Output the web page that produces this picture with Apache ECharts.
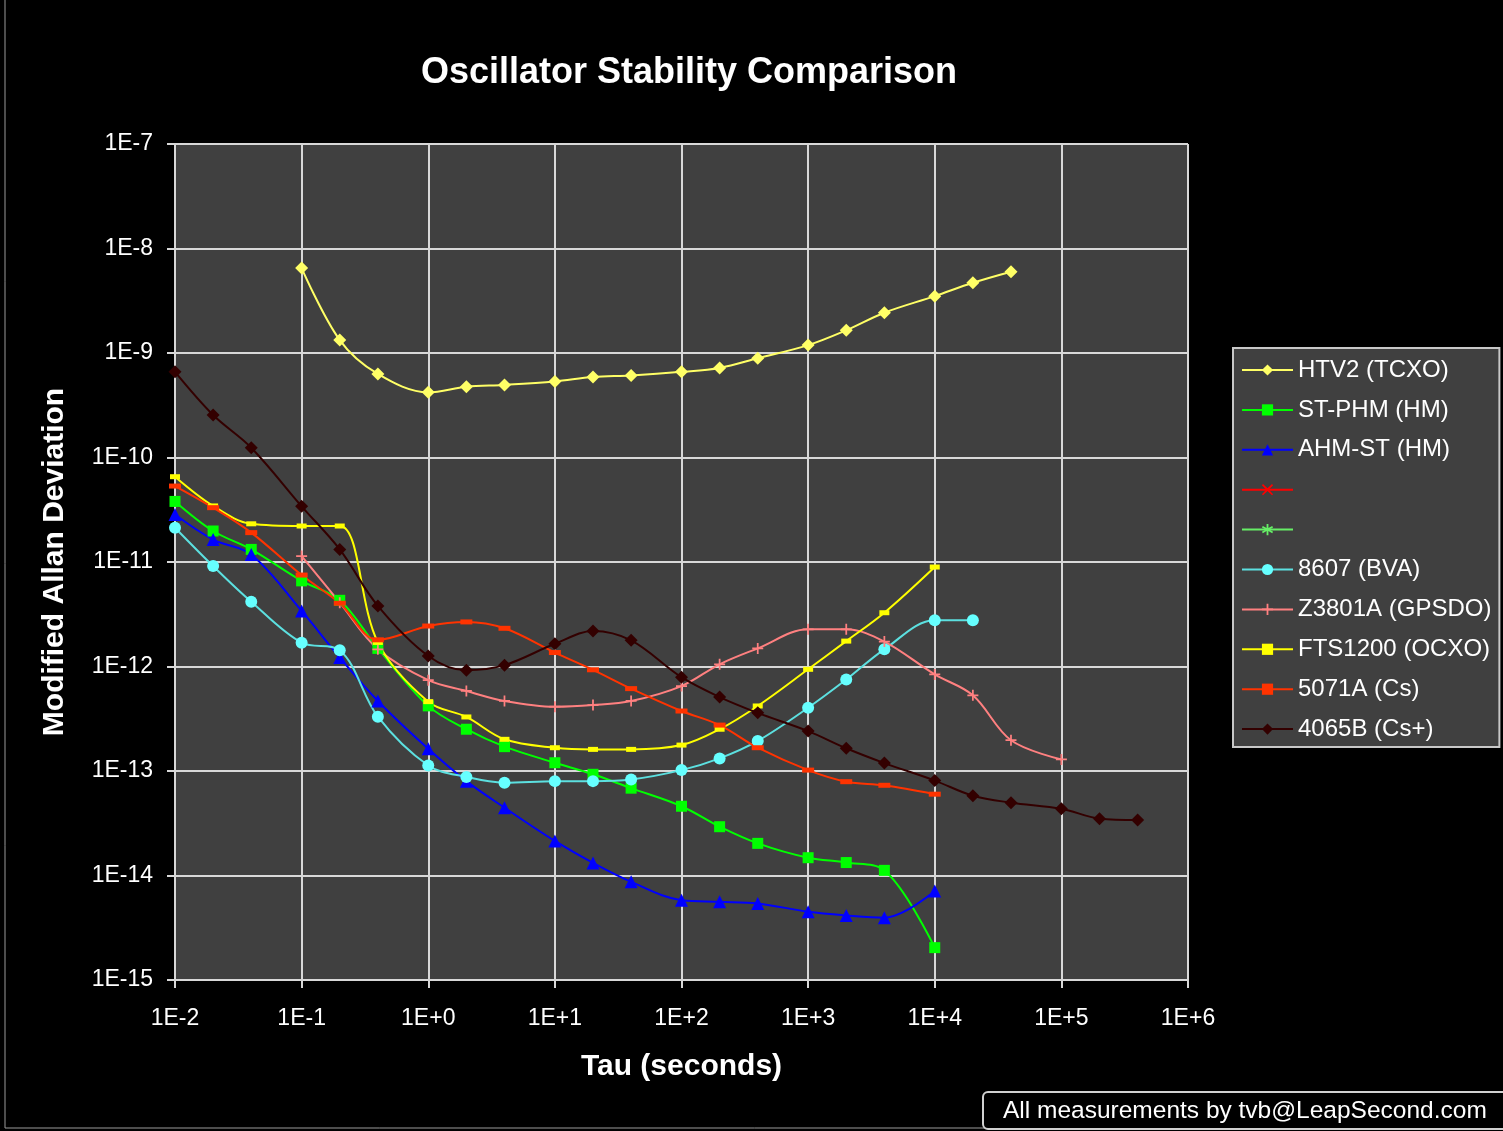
<!DOCTYPE html>
<html>
<head>
<meta charset="utf-8">
<script src="https://cdn.jsdelivr.net/npm/echarts@6/dist/echarts.min.js"></script>
<style>
html,body{margin:0;padding:0;background:#000;}
#chart{width:1503px;height:1131px;}
</style>
</head>
<body>
<div id="chart"></div>
<script>
// ---- data (tau in seconds, Modified Allan Deviation) ----
const tauHTV2 = [0.1,0.2,0.4,1,2,4,10,20,40,100,200,400,1000,2000,4000,1e4,2e4,4e4];
const valHTV2 = [6.5e-9,1.33e-9,6.3e-10,4.2e-10,4.75e-10,4.95e-10,5.35e-10,5.9e-10,6.1e-10,6.6e-10,7.2e-10,8.9e-10,1.19e-9,1.65e-9,2.43e-9,3.5e-9,4.7e-9,6.0e-9];

const tauSTPHM = [0.01,0.02,0.04,0.1,0.2,0.4,1,2,4,10,20,40,100,200,400,1000,2000,4000,1e4];
const valSTPHM = [3.8e-11,1.98e-11,1.32e-11,6.6e-12,4.3e-12,1.49e-12,4.2e-13,2.51e-13,1.71e-13,1.2e-13,9.3e-14,6.85e-14,4.6e-14,2.93e-14,2.03e-14,1.48e-14,1.33e-14,1.12e-14,2.04e-15];

const tauAHMST = [0.01,0.02,0.04,0.1,0.2,0.4,1,2,4,10,20,40,100,200,400,1000,2000,4000,1e4];
const valAHMST = [2.85e-11,1.64e-11,1.18e-11,3.4e-12,1.22e-12,4.68e-13,1.63e-13,8.0e-14,4.46e-14,2.14e-14,1.32e-14,8.7e-15,5.8e-15,5.6e-15,5.4e-15,4.5e-15,4.15e-15,3.95e-15,7.1e-15];

const tau8607 = [0.01,0.02,0.04,0.1,0.2,0.4,1,2,4,10,20,40,100,200,400,1000,2000,4000,1e4,2e4];
const val8607 = [2.13e-11,9.15e-12,4.17e-12,1.69e-12,1.43e-12,3.31e-13,1.13e-13,8.77e-14,7.73e-14,8.0e-14,8.0e-14,8.3e-14,1.02e-13,1.32e-13,1.94e-13,4.03e-13,7.5e-13,1.46e-12,2.77e-12,2.77e-12];

const tauZ3801A = [0.1,0.2,0.4,1,2,4,10,20,40,100,200,400,1000,2000,4000,1e4,2e4,4e4,1e5];
const valZ3801A = [1.14e-11,4.08e-12,1.46e-12,7.4e-13,5.83e-13,4.68e-13,4.12e-13,4.28e-13,4.68e-13,6.5e-13,1.05e-12,1.49e-12,2.27e-12,2.27e-12,1.73e-12,8.4e-13,5.3e-13,1.97e-13,1.29e-13];

const tauFTS1200 = [0.01,0.02,0.04,0.1,0.2,0.4,1,2,4,10,20,40,100,200,400,1000,2000,4000,1e4];
const valFTS1200 = [6.55e-11,3.44e-11,2.32e-11,2.21e-11,2.21e-11,1.7e-12,4.61e-13,3.29e-13,2.01e-13,1.67e-13,1.61e-13,1.61e-13,1.77e-13,2.51e-13,4.19e-13,9.4e-13,1.75e-12,3.27e-12,8.95e-12];

const tau5071A = [0.01,0.02,0.04,0.1,0.2,0.4,1,2,4,10,20,40,100,200,400,1000,2000,4000,1e4];
const val5071A = [5.33e-11,3.31e-11,1.91e-11,7.5e-12,4.03e-12,1.8e-12,2.44e-12,2.67e-12,2.32e-12,1.36e-12,9.3e-13,6.14e-13,3.75e-13,2.75e-13,1.67e-13,1.02e-13,7.9e-14,7.3e-14,6.0e-14];

const tau4065B = [0.01,0.02,0.04,0.1,0.2,0.4,1,2,4,10,20,40,100,200,400,1000,2000,4000,1e4,2e4,4e4,1e5,2e5,4e5];
const val4065B = [6.6e-10,2.55e-10,1.24e-10,3.41e-11,1.32e-11,3.8e-12,1.26e-12,9.2e-13,1.03e-12,1.65e-12,2.19e-12,1.78e-12,7.9e-13,5.1e-13,3.6e-13,2.41e-13,1.65e-13,1.19e-13,8.1e-14,5.8e-14,4.98e-14,4.36e-14,3.5e-14,3.4e-14];

const seriesNames = ['HTV2 (TCXO)','ST-PHM (HM)','AHM-ST (HM)',' ','  ','8607 (BVA)','Z3801A (GPSDO)','FTS1200 (OCXO)','5071A (Cs)','4065B (Cs+)'];

// ---- helpers ----
function pairs(t, v){ return t.map((x,i)=>[x, v[i]]); }
function expLabel(v, plus){
  const e = Math.round(Math.log10(v));
  return '1E' + (e >= 0 ? (plus ? '+' : '') : '-') + Math.abs(e);
}
const PLUS = 'path://M4.2,0H5.8V4.2H10V5.8H5.8V10H4.2V5.8H0V4.2H4.2Z';
const XMARK = 'path://M1,0L5,3.8L9,0L10,1L6.2,5L10,9L9,10L5,6.2L1,10L0,9L3.8,5L0,1Z';
const STAR = 'path://M4.3,0H5.7V3.3L8.6,1.6L9.3,2.8L6.4,4.5L9.3,6.2L8.6,7.4L5.7,5.7V9H4.3V5.7L1.4,7.4L0.7,6.2L3.6,4.5L0.7,2.8L1.4,1.6L4.3,3.3Z';

function mk(name, data, color, symbol, size, lineColor){
  return {
    name: name, type: 'line', data: data, smooth: 0.35,
    symbol: symbol, symbolSize: size, showSymbol: true,
    lineStyle: {color: lineColor || color, width: 2},
    itemStyle: {color: color},
    emphasis: {disabled: true}
  };
}

const chart = echarts.init(document.getElementById('chart'), null, {renderer: 'canvas'});
const FONT = "'Liberation Sans', Arial, sans-serif";
chart.setOption({
  animation: false,
  backgroundColor: '#000000',
  title: {
    text: 'Oscillator Stability Comparison',
    left: 684, top: 50, textAlign: 'center',
    textStyle: {color: '#ffffff', fontFamily: FONT, fontWeight: 'bold', fontSize: 36}
  },
  grid: {left: 175, top: 144, width: 1013, height: 836, show: true, backgroundColor: '#404040', borderWidth: 0, containLabel: false},
  xAxis: {
    type: 'log', logBase: 10, min: 0.01, max: 1e6, interval: 1, splitNumber: 8,
    name: 'Tau (seconds)', nameLocation: 'middle', nameGap: 72,
    nameTextStyle: {color: '#ffffff', fontFamily: FONT, fontWeight: 'bold', fontSize: 30},
    axisLine: {show: true, lineStyle: {color: '#d8d8d8', width: 2}},
    axisTick: {show: true, inside: false, length: 8, lineStyle: {color: '#d8d8d8', width: 2}},
    minorTick: {show: false},
    splitLine: {show: true, lineStyle: {color: '#d8d8d8', width: 2}},
    axisLabel: {color: '#ffffff', fontFamily: FONT, fontSize: 23, margin: 27, formatter: v => expLabel(v, true)}
  },
  yAxis: {
    type: 'log', logBase: 10, min: 1e-15, max: 1e-7, interval: 1, splitNumber: 8,
    name: 'Modified Allan Deviation', nameLocation: 'middle', nameGap: 105,
    nameTextStyle: {color: '#ffffff', fontFamily: FONT, fontWeight: 'bold', fontSize: 30},
    axisLine: {show: true, lineStyle: {color: '#d8d8d8', width: 2}},
    axisTick: {show: true, inside: false, length: 8, lineStyle: {color: '#d8d8d8', width: 2}},
    minorTick: {show: false},
    splitLine: {show: true, lineStyle: {color: '#d8d8d8', width: 2}},
    axisLabel: {color: '#ffffff', fontFamily: FONT, fontSize: 23, margin: 22, formatter: v => expLabel(v, false)}
  },
  legend: {
    orient: 'vertical', left: 1233, top: 348,
    data: seriesNames,
    backgroundColor: '#404040', borderColor: '#c8c8c8', borderWidth: 2,
    padding: [10, 8, 6, 8],
    itemWidth: 51, itemHeight: 14, itemGap: 15.9,
    textStyle: {color: '#ffffff', fontFamily: FONT, fontSize: 24, lineHeight: 24},
    formatter: n => (n.trim() || '\u00a0'),
    selectedMode: false
  },
  graphic: [
    {type: 'rect', silent: true, shape: {x: 5, y: -10, width: 1510, height: 1138},
     style: {fill: 'none', stroke: '#9a9a9a', lineWidth: 1}},
    {type: 'rect', silent: true, shape: {x: 983, y: 1092, width: 540, height: 37, r: 5},
     style: {fill: '#000', stroke: '#d0d0d0', lineWidth: 2}},
    {type: 'text', silent: true, x: 1003, y: 1111,
     style: {text: 'All measurements by tvb@LeapSecond.com', fill: '#ffffff', font: "24.5px 'Liberation Sans', Arial, sans-serif", verticalAlign: 'middle', textAlign: 'left'}}
  ],
  series: [
    mk(seriesNames[0], pairs(tauHTV2, valHTV2), '#ffff66', 'diamond', 13),
    mk(seriesNames[1], pairs(tauSTPHM, valSTPHM), '#00ff00', 'rect', 11),
    mk(seriesNames[2], pairs(tauAHMST, valAHMST), '#0000ff', 'triangle', 13),
    mk(seriesNames[3], [], '#ff0000', XMARK, 9),
    mk(seriesNames[4], [], '#66ee66', STAR, 9),
    mk(seriesNames[5], pairs(tau8607, val8607), '#66ffff', 'circle', 12, '#5ce0e0'),
    mk(seriesNames[6], pairs(tauZ3801A, valZ3801A), '#ff8080', PLUS, 11),
    mk(seriesNames[7], pairs(tauFTS1200, valFTS1200), '#ffff00', 'rect', [10, 5]),
    mk(seriesNames[8], pairs(tau5071A, val5071A), '#ff3300', 'rect', [12, 5]),
    mk(seriesNames[9], pairs(tau4065B, val4065B), '#330000', 'diamond', 13)
  ]
});
</script>
</body>
</html>
